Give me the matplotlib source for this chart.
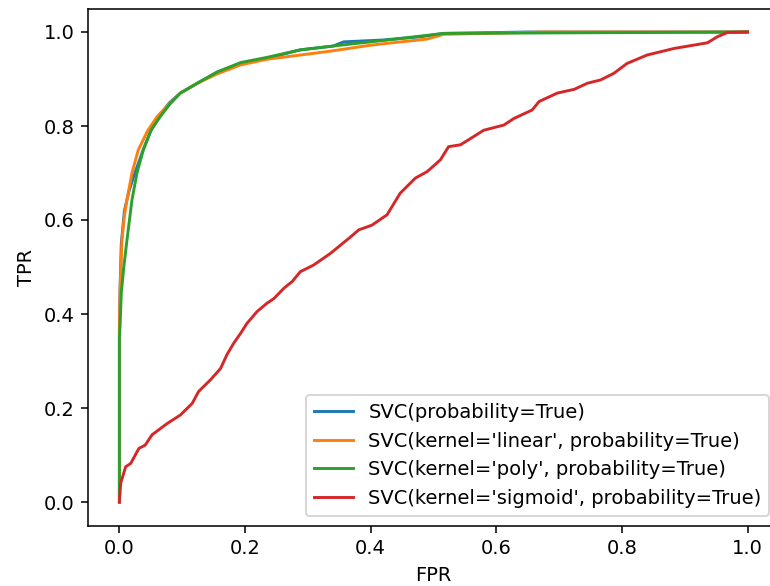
import matplotlib
matplotlib.use("Agg")
import matplotlib.pyplot as plt

# ROC points
fpr_rbf = [0.0, 0.0, 0.001, 0.003, 0.008, 0.015, 0.022, 0.030, 0.038, 0.050, 0.062, 0.080, 0.097,
           0.124, 0.156, 0.193, 0.235, 0.288, 0.340, 0.357, 0.420, 0.480, 0.516, 0.650, 1.0]
tpr_rbf = [0.0, 0.37, 0.45, 0.55, 0.62, 0.66, 0.69, 0.72, 0.75, 0.79, 0.82, 0.85, 0.870,
           0.891, 0.915, 0.933, 0.944, 0.962, 0.970, 0.979, 0.983, 0.990, 0.997, 1.0, 1.0]

fpr_lin = [0.0, 0.0, 0.001, 0.004, 0.008, 0.012, 0.020, 0.030, 0.045, 0.060, 0.080, 0.097,
           0.124, 0.156, 0.193, 0.235, 0.288, 0.340, 0.400, 0.490, 0.516, 0.675, 1.0]
tpr_lin = [0.0, 0.37, 0.45, 0.557, 0.61, 0.643, 0.70, 0.749, 0.79, 0.820, 0.848, 0.870,
           0.891, 0.911, 0.930, 0.942, 0.951, 0.960, 0.972, 0.985, 0.995, 1.0, 1.0]

fpr_poly = [0.0, 0.0, 0.001, 0.003, 0.007, 0.012, 0.020, 0.028, 0.038, 0.050, 0.065, 0.080, 0.097,
            0.124, 0.156, 0.193, 0.235, 0.288, 0.352, 0.420, 0.516, 1.0]
tpr_poly = [0.0, 0.35, 0.373, 0.445, 0.50, 0.557, 0.643, 0.70, 0.749, 0.790, 0.820, 0.846, 0.870,
            0.891, 0.915, 0.935, 0.946, 0.962, 0.972, 0.982, 0.997, 1.0]

fpr_sig = [0.0, 0.002, 0.010, 0.018, 0.031, 0.041, 0.052, 0.076, 0.097, 0.116, 0.126, 0.145,
           0.161, 0.171, 0.182, 0.193, 0.203, 0.219, 0.235, 0.246, 0.262, 0.275, 0.288, 0.309,
           0.336, 0.368, 0.381, 0.402, 0.426, 0.447, 0.471, 0.490, 0.511, 0.524, 0.543, 0.580,
           0.612, 0.628, 0.657, 0.668, 0.697, 0.724, 0.745, 0.766, 0.787, 0.808, 0.840, 0.883,
           0.914, 0.936, 0.952, 0.968, 1.0]
tpr_sig = [0.0, 0.040, 0.075, 0.082, 0.114, 0.121, 0.143, 0.167, 0.185, 0.210, 0.235, 0.260,
           0.284, 0.313, 0.338, 0.359, 0.380, 0.405, 0.423, 0.433, 0.455, 0.469, 0.490, 0.504,
           0.529, 0.564, 0.579, 0.589, 0.611, 0.657, 0.689, 0.703, 0.728, 0.756, 0.760, 0.791,
           0.802, 0.816, 0.834, 0.852, 0.870, 0.878, 0.891, 0.898, 0.912, 0.933, 0.951, 0.965,
           0.972, 0.977, 0.990, 0.999, 1.0]

labels = ["SVC(probability=True)",
          "SVC(kernel='linear', probability=True)",
          "SVC(kernel='poly', probability=True)",
          "SVC(kernel='sigmoid', probability=True)"]

fig = plt.figure(figsize=(770 / 140, 586 / 140), dpi=140)
ax = fig.add_axes([88 / 770, 60.5 / 586, 691 / 770, 517 / 586])

ax.plot(fpr_rbf, tpr_rbf, label=labels[0])
ax.plot(fpr_lin, tpr_lin, label=labels[1])
ax.plot(fpr_poly, tpr_poly, label=labels[2])
ax.plot(fpr_sig, tpr_sig, label=labels[3])

ax.set_xlabel("FPR")
ax.set_ylabel("TPR")
ax.legend(loc="lower right")

fig.savefig("out.png", dpi=140)
